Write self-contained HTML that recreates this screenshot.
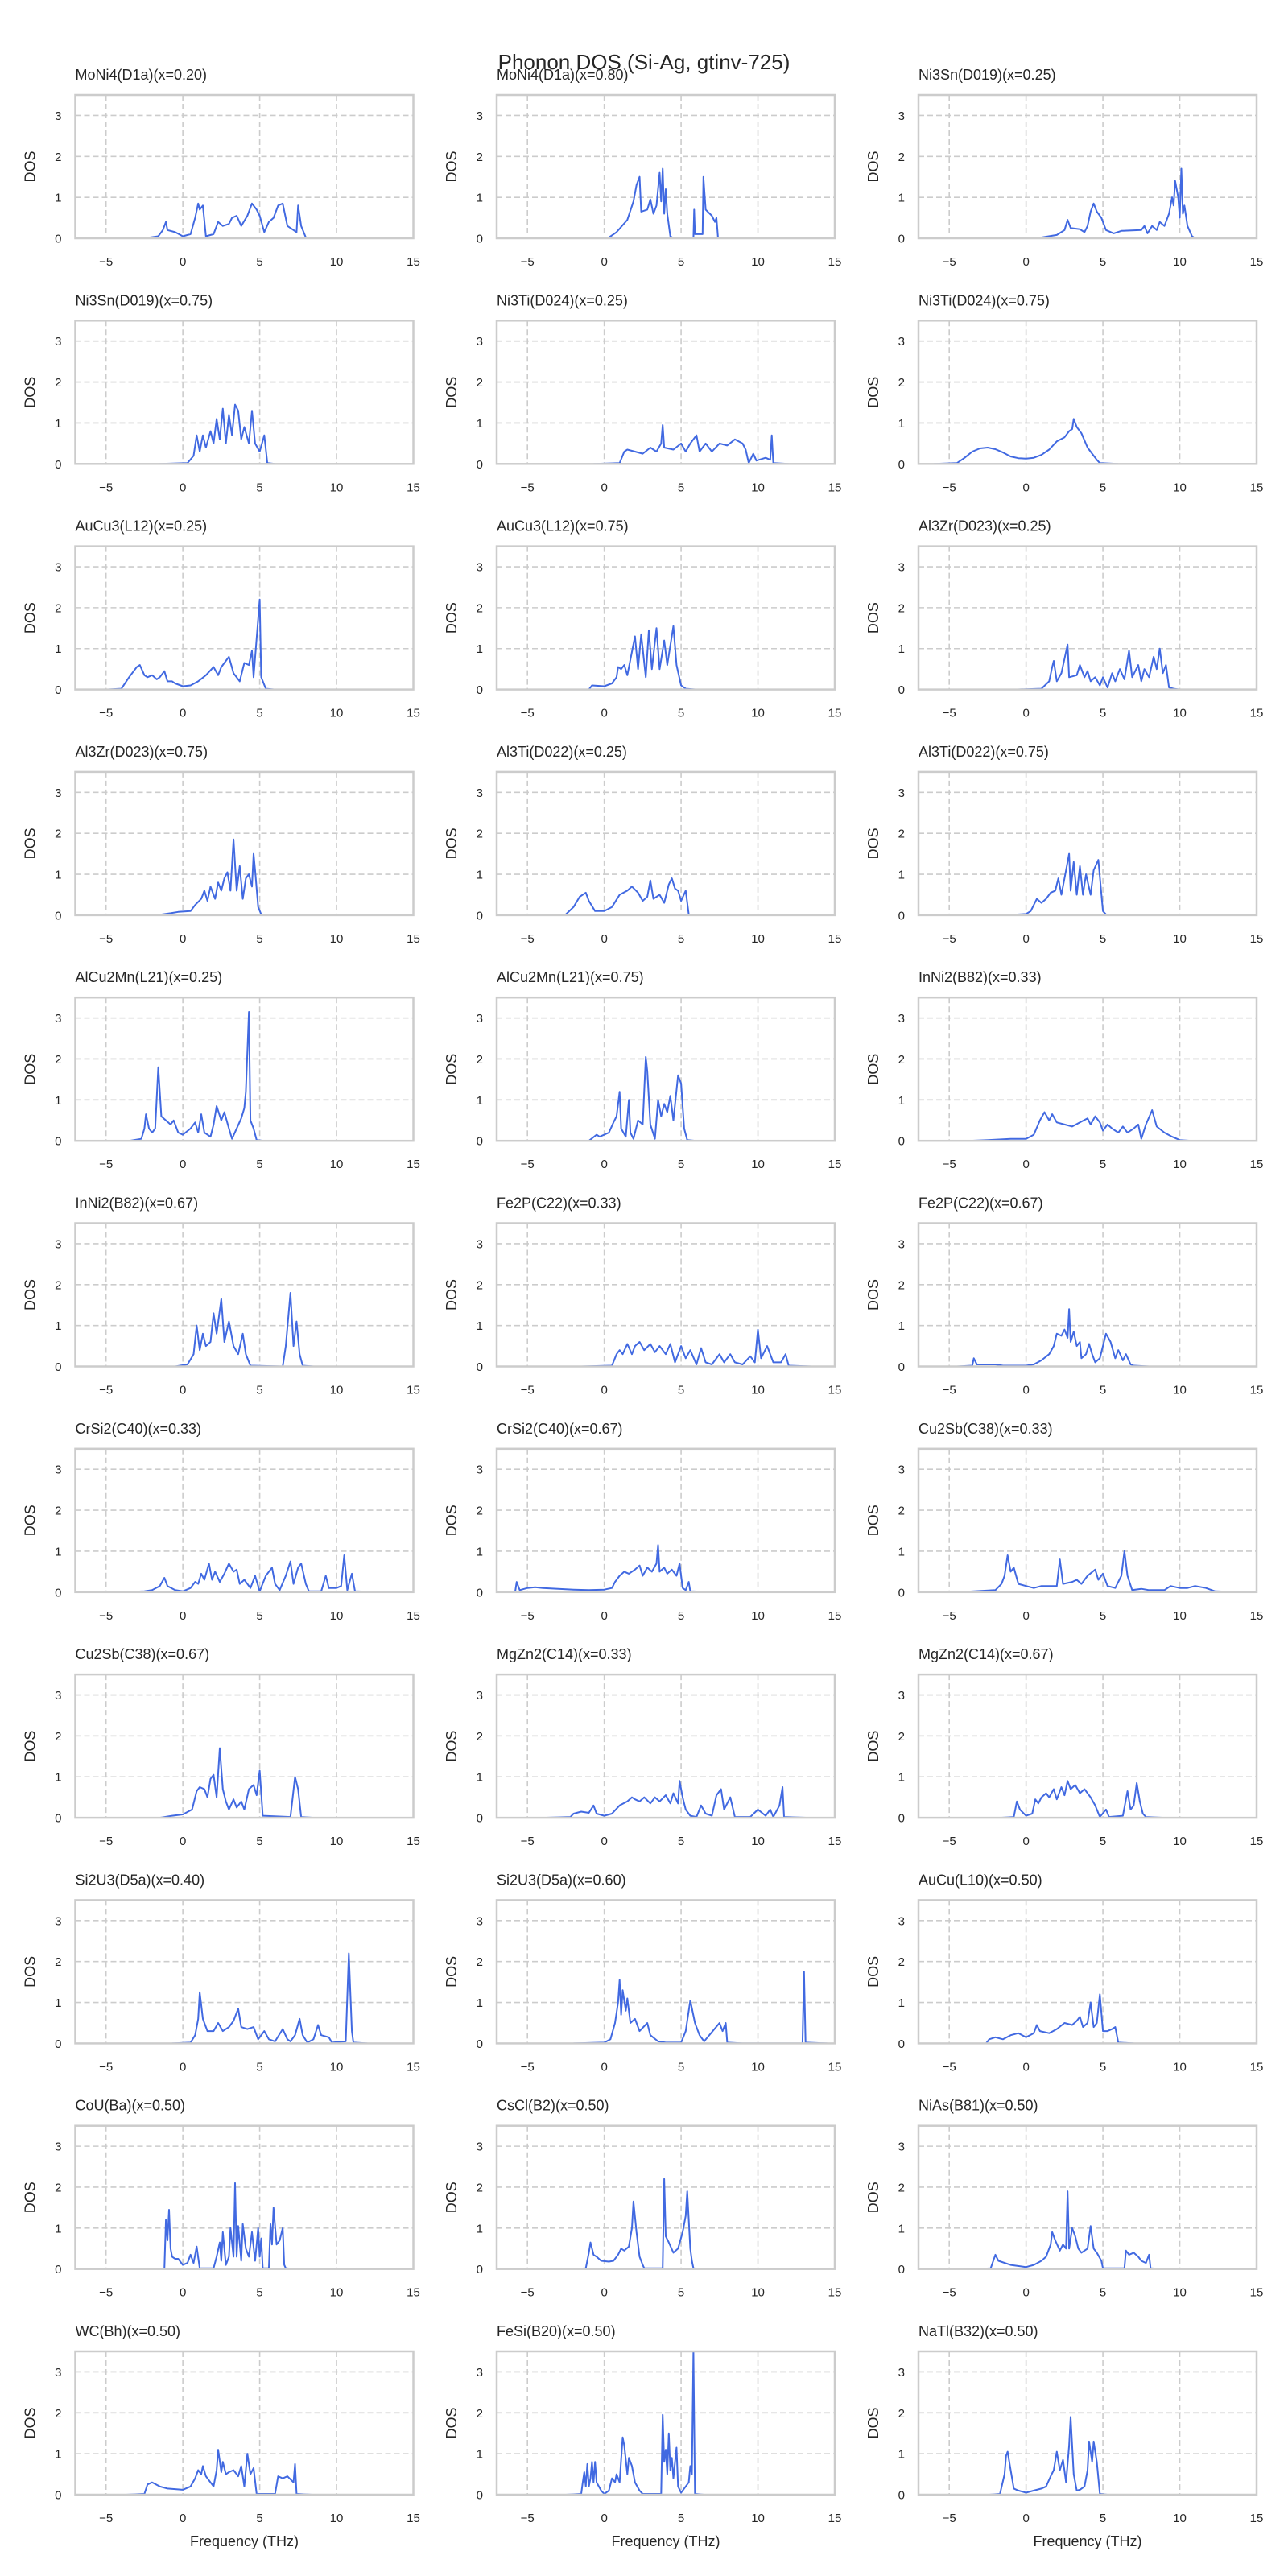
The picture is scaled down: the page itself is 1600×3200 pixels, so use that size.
<!DOCTYPE html>
<html><head><meta charset="utf-8"><title>Phonon DOS (Si-Ag, gtinv-725)</title>
<style>
html,body{margin:0;padding:0;background:#fff;}
svg{display:block;font-family:"Liberation Sans",sans-serif;}
</style></head>
<body>
<svg id="fig" width="1600" height="3200" viewBox="0 0 1600 3200" xmlns="http://www.w3.org/2000/svg">
<rect width="1600" height="3200" fill="#fff"/>
<text x="800" y="86" text-anchor="middle" font-size="26" fill="#262626">Phonon DOS (Si-Ag, gtinv-725)</text>
</svg>
<script>
const panelTitles = ["MoNi4(D1a)(x=0.20)","MoNi4(D1a)(x=0.80)","Ni3Sn(D019)(x=0.25)","Ni3Sn(D019)(x=0.75)","Ni3Ti(D024)(x=0.25)","Ni3Ti(D024)(x=0.75)","AuCu3(L12)(x=0.25)","AuCu3(L12)(x=0.75)","Al3Zr(D023)(x=0.25)","Al3Zr(D023)(x=0.75)","Al3Ti(D022)(x=0.25)","Al3Ti(D022)(x=0.75)","AlCu2Mn(L21)(x=0.25)","AlCu2Mn(L21)(x=0.75)","InNi2(B82)(x=0.33)","InNi2(B82)(x=0.67)","Fe2P(C22)(x=0.33)","Fe2P(C22)(x=0.67)","CrSi2(C40)(x=0.33)","CrSi2(C40)(x=0.67)","Cu2Sb(C38)(x=0.33)","Cu2Sb(C38)(x=0.67)","MgZn2(C14)(x=0.33)","MgZn2(C14)(x=0.67)","Si2U3(D5a)(x=0.40)","Si2U3(D5a)(x=0.60)","AuCu(L10)(x=0.50)","CoU(Ba)(x=0.50)","CsCl(B2)(x=0.50)","NiAs(B81)(x=0.50)","WC(Bh)(x=0.50)","FeSi(B20)(x=0.50)","NaTl(B32)(x=0.50)"];
const xTicks = [-5,0,5,10,15];
const yTicks = [0,1,2,3];
const xDomain = [-7,15];
const yDomain = [0,3.5];
// each series: flat list of [frequency, dos] pairs
const dosSeries = [
[-2.5,0,-1.6,0.05,-1.3,0.2,-1.1,0.4,-1,0.2,-0.5,0.15,0,0.05,0.5,0.1,0.8,0.5,1,0.85,1.1,0.7,1.3,0.8,1.5,0.05,2,0.1,2.3,0.4,2.6,0.3,3,0.35,3.2,0.5,3.5,0.55,3.8,0.3,4.2,0.55,4.5,0.85,4.8,0.7,5,0.55,5.3,0.15,5.6,0.4,5.9,0.5,6.2,0.8,6.5,0.85,6.8,0.3,7.2,0.2,7.4,0.15,7.5,0.8,7.7,0.3,8,0.02,9,0],
[-1,0,0.3,0.02,0.8,0.15,1.5,0.45,1.9,0.9,2.1,1.3,2.3,1.5,2.4,0.65,2.8,0.7,3,0.95,3.2,0.6,3.4,0.8,3.6,1.6,3.7,0.9,3.8,1.7,3.9,0.6,4,1.2,4.1,0.6,4.3,0.05,4.5,0,5.8,0,5.85,0.7,5.9,0.1,6.4,0.1,6.45,1.5,6.6,0.7,7,0.55,7.2,0.4,7.3,0.5,7.4,0.02,8,0],
[-0.7,0,1,0.02,2,0.08,2.5,0.2,2.7,0.45,2.9,0.25,3.5,0.22,3.8,0.15,4,0.3,4.2,0.65,4.4,0.85,4.6,0.65,4.9,0.5,5.2,0.2,5.7,0.12,6.2,0.18,7.5,0.2,7.7,0.3,7.9,0.12,8.2,0.3,8.5,0.2,8.7,0.4,9,0.3,9.3,0.6,9.5,1.0,9.6,0.8,9.7,1.4,9.9,1.0,10,0.5,10.1,1.7,10.2,0.6,10.3,0.8,10.5,0.3,10.8,0.05,11,0,12,0],
[-1.5,0,0.3,0.02,0.7,0.2,0.9,0.7,1.1,0.3,1.3,0.7,1.5,0.4,1.8,0.8,2,0.5,2.2,1.1,2.4,0.6,2.6,1.35,2.8,0.5,3,1.2,3.2,0.7,3.4,1.45,3.6,1.3,3.8,0.6,4,0.9,4.3,0.5,4.5,1.3,4.7,0.5,5,0.3,5.3,0.7,5.5,0.02,6,0],
[-0.7,0,1,0.02,1.3,0.3,1.5,0.35,2,0.3,2.5,0.25,3,0.4,3.4,0.3,3.7,0.5,3.8,0.95,3.9,0.4,4.5,0.35,5,0.5,5.3,0.3,5.6,0.5,6,0.7,6.2,0.3,6.6,0.5,7,0.3,7.5,0.5,8,0.45,8.5,0.6,9,0.5,9.2,0.35,9.4,0.02,9.7,0.25,9.9,0.08,10.5,0.15,10.8,0.1,10.9,0.7,11,0.02,12,0],
[-6,0,-4.5,0.02,-4,0.15,-3.5,0.3,-3,0.38,-2.5,0.4,-2,0.36,-1.5,0.28,-1,0.18,-0.5,0.14,0,0.13,0.5,0.15,1,0.22,1.5,0.35,2,0.55,2.5,0.65,2.8,0.8,3,0.85,3.1,1.1,3.3,0.9,3.6,0.75,4,0.4,4.3,0.25,4.6,0.1,4.8,0.02,6,0],
[-5,0,-4,0.02,-3.5,0.3,-3,0.55,-2.8,0.6,-2.5,0.35,-2.3,0.3,-2,0.35,-1.7,0.25,-1.5,0.3,-1.2,0.45,-1,0.2,-0.7,0.2,-0.5,0.15,0,0.08,0.5,0.1,1,0.2,1.5,0.35,2,0.55,2.3,0.35,2.5,0.55,3,0.8,3.3,0.4,3.7,0.2,4,0.65,4.3,0.6,4.5,0.95,4.6,0.3,5,2.2,5.1,0.3,5.4,0.02,6,0],
[-1,0,-0.8,0.1,0,0.08,0.5,0.15,0.8,0.3,0.9,0.55,1.1,0.5,1.3,0.6,1.5,0.35,2,1.3,2.2,0.5,2.4,1.35,2.7,0.3,2.9,1.45,3.1,0.5,3.4,1.5,3.6,0.5,3.9,1.2,4.1,0.6,4.5,1.55,4.7,0.6,5,0.1,5.3,0.02,6,0],
[-0.7,0,1,0.02,1.5,0.2,1.7,0.55,1.8,0.7,2,0.2,2.3,0.4,2.7,1.1,2.8,0.3,3.3,0.35,3.5,0.6,3.8,0.3,4,0.45,4.2,0.2,4.5,0.3,4.8,0.1,5,0.3,5.3,0.05,5.6,0.4,5.8,0.2,6.1,0.5,6.4,0.25,6.7,0.95,6.9,0.3,7.3,0.6,7.5,0.2,7.7,0.5,8,0.3,8.3,0.8,8.5,0.5,8.7,1.0,8.9,0.4,9.1,0.6,9.3,0.05,9.6,0.02,10,0],
[-1.7,0,-0.8,0.05,-0.3,0.08,0.5,0.1,0.8,0.25,1.2,0.4,1.4,0.6,1.6,0.35,1.8,0.7,2.1,0.4,2.3,0.8,2.5,0.6,2.7,0.9,2.9,1.05,3.1,0.6,3.3,1.85,3.5,0.6,3.7,1.2,3.9,0.4,4.1,0.9,4.3,1.0,4.5,0.7,4.6,1.5,4.7,1.1,4.9,0.2,5.1,0.02,5.5,0],
[-3.7,0,-2.5,0.02,-2,0.2,-1.6,0.45,-1.2,0.55,-1,0.35,-0.6,0.1,0,0.1,0.5,0.2,1,0.5,1.5,0.6,1.8,0.7,2.2,0.55,2.5,0.35,2.8,0.45,3,0.85,3.2,0.4,3.6,0.5,3.9,0.3,4.2,0.75,4.4,0.9,4.6,0.65,4.8,0.6,5,0.35,5.3,0.6,5.5,0.02,6.5,0],
[-1.5,0,0,0.03,0.3,0.1,0.7,0.4,1,0.3,1.3,0.4,1.6,0.55,1.9,0.6,2.1,0.9,2.3,0.5,2.6,1.1,2.8,1.5,2.9,0.6,3.1,1.3,3.3,0.5,3.5,1.2,3.7,0.5,3.9,1.0,4.2,0.5,4.4,1.1,4.7,1.35,5,0.1,5.2,0.02,6,0],
[-3.5,0,-2.7,0.05,-2.5,0.3,-2.4,0.65,-2.2,0.3,-2,0.2,-1.8,0.3,-1.6,1.8,-1.4,0.6,-1.1,0.5,-0.8,0.4,-0.6,0.5,-0.3,0.2,0,0.15,0.5,0.3,0.8,0.45,1,0.2,1.2,0.65,1.4,0.2,1.8,0.1,2,0.4,2.2,0.85,2.5,0.5,2.7,0.7,3,0.3,3.2,0.05,3.5,0.3,3.8,0.55,4,0.8,4.1,1.2,4.3,3.15,4.4,0.5,4.6,0.3,4.8,0.02,5.3,0],
[-1,0,-0.5,0.15,-0.3,0.1,0.3,0.2,0.6,0.45,0.8,0.6,1,1.2,1.1,0.3,1.4,0.1,1.6,1.0,1.7,0.2,1.9,0.05,2.2,0.5,2.5,0.4,2.7,2.05,2.8,1.7,3,0.4,3.3,0.05,3.5,1.0,3.7,0.6,3.9,0.9,4.1,0.7,4.3,1.1,4.5,0.5,4.8,1.6,5,1.4,5.2,0.3,5.4,0.02,6,0],
[-3.8,0,-2.5,0.02,-1,0.05,0,0.05,0.5,0.15,0.9,0.5,1.2,0.7,1.5,0.5,1.7,0.65,2,0.45,2.5,0.4,3,0.35,3.5,0.45,4,0.55,4.2,0.4,4.5,0.6,4.8,0.45,5,0.25,5.3,0.4,5.6,0.3,6,0.2,6.3,0.35,6.6,0.2,7,0.3,7.3,0.4,7.5,0.05,7.8,0.4,8.2,0.75,8.5,0.35,9,0.2,9.5,0.1,10,0.02,10.8,0],
[-0.5,0,0.3,0.05,0.7,0.3,0.9,1.0,1.1,0.4,1.3,0.8,1.5,0.5,1.8,0.6,2,1.3,2.2,0.8,2.5,1.65,2.7,0.6,3,1.1,3.3,0.5,3.6,0.3,3.9,0.8,4.1,0.3,4.4,0.02,6.5,0,6.7,0.5,7,1.8,7.2,0.5,7.4,1.1,7.6,0.3,7.8,0.02,8.5,0],
[-1.5,0,0.5,0.02,0.8,0.3,1,0.4,1.2,0.3,1.5,0.55,1.8,0.3,2,0.5,2.3,0.6,2.6,0.4,3,0.55,3.3,0.35,3.6,0.5,4,0.3,4.3,0.55,4.6,0.1,5,0.5,5.3,0.2,5.6,0.4,6,0.05,6.3,0.45,6.6,0.1,7,0.05,7.5,0.3,7.8,0.1,8.2,0.3,8.5,0.1,9,0.05,9.5,0.25,9.8,0.1,10,0.9,10.2,0.2,10.6,0.5,11,0.1,11.5,0.1,11.8,0.3,12,0.02,13.5,0],
[-4.5,0,-3.5,0.02,-3.4,0.2,-3.2,0.05,-2.5,0.05,-2,0.05,-1.5,0.02,0,0.02,0.5,0.05,1,0.15,1.5,0.3,1.8,0.5,2,0.8,2.3,0.75,2.5,0.9,2.7,0.7,2.8,1.4,2.9,0.6,3.1,0.85,3.3,0.5,3.5,0.6,3.6,0.2,3.9,0.3,4.1,0.55,4.3,0.3,4.5,0.1,4.8,0.2,5.2,0.8,5.5,0.6,5.8,0.2,6,0.4,6.3,0.15,6.5,0.3,6.8,0.05,7,0.02,8,0],
[-3.8,0,-2.5,0.02,-2,0.05,-1.5,0.15,-1.2,0.35,-1,0.15,-0.5,0.05,0,0.02,0.5,0.1,0.8,0.25,1,0.2,1.2,0.45,1.4,0.3,1.7,0.7,1.9,0.3,2.1,0.5,2.4,0.25,2.7,0.45,3,0.7,3.3,0.5,3.5,0.55,3.7,0.2,4,0.3,4.4,0.1,4.7,0.4,5,0.02,5.4,0.4,5.8,0.6,6,0.2,6.3,0.05,6.7,0.4,7,0.75,7.2,0.2,7.5,0.6,7.7,0.7,8,0.2,8.2,0.02,9,0.02,9.3,0.4,9.5,0.1,10,0.1,10.3,0.15,10.5,0.9,10.7,0.05,11,0.45,11.2,0.02,12.8,0],
[-7,0,-5.8,0,-5.7,0.25,-5.5,0.05,-5,0.1,-4.5,0.12,-4,0.1,-3,0.08,-2,0.06,-1,0.05,0,0.06,0.5,0.1,0.7,0.25,1,0.4,1.3,0.5,1.6,0.45,2,0.55,2.3,0.65,2.5,0.4,2.8,0.6,3.1,0.5,3.4,0.7,3.5,1.15,3.6,0.5,3.9,0.6,4.1,0.45,4.4,0.55,4.7,0.4,4.9,0.7,5.1,0.1,5.3,0.05,5.5,0.25,5.6,0.02,7.2,0],
[-4.3,0,-2,0.05,-1.6,0.2,-1.4,0.4,-1.2,0.9,-1,0.5,-0.8,0.6,-0.5,0.2,0,0.15,0.5,0.1,1,0.15,2,0.15,2.2,0.8,2.4,0.2,3,0.25,3.3,0.3,3.6,0.2,4,0.4,4.5,0.55,4.7,0.3,5,0.45,5.3,0.15,5.8,0.1,6.2,0.4,6.4,1.0,6.6,0.4,6.9,0.05,7.5,0.08,8,0.05,9,0.05,9.4,0.15,10,0.1,10.5,0.1,11,0.15,11.7,0.1,12.3,0.02,14,0],
[-1.5,0,-0.7,0.05,0,0.08,0.6,0.2,0.9,0.65,1.1,0.75,1.4,0.7,1.6,0.5,1.8,0.95,2,1.05,2.2,0.5,2.4,1.7,2.6,0.7,2.8,0.4,3,0.2,3.3,0.45,3.5,0.25,3.8,0.4,4,0.2,4.3,0.7,4.6,0.8,4.8,0.55,5,1.15,5.2,0.05,7,0.02,7.3,1.0,7.5,0.7,7.7,0.02,8.5,0],
[-4,0,-2.2,0.02,-2,0.1,-1.5,0.15,-1,0.12,-0.7,0.3,-0.5,0.1,0,0.05,0.5,0.1,1,0.3,1.5,0.4,1.8,0.5,2,0.45,2.3,0.4,2.6,0.5,3,0.35,3.3,0.5,3.6,0.4,4,0.55,4.3,0.35,4.5,0.6,4.8,0.35,4.9,0.9,5.1,0.5,5.3,0.2,5.6,0.05,6,0.02,6.3,0.3,6.6,0.1,7,0.05,7.3,0.55,7.6,0.7,7.8,0.2,8.2,0.5,8.5,0.02,9.5,0.02,10,0.2,10.5,0.05,10.8,0.2,11,0.02,11.4,0.3,11.6,0.75,11.7,0.02,13.3,0],
[-1.7,0,-0.8,0.02,-0.6,0.4,-0.4,0.2,0,0.05,0.4,0.1,0.6,0.45,0.8,0.35,1,0.5,1.3,0.6,1.5,0.5,1.8,0.7,2,0.45,2.3,0.75,2.5,0.55,2.7,0.9,2.9,0.7,3.2,0.8,3.5,0.6,3.8,0.7,4.2,0.5,4.5,0.3,4.8,0.02,5.2,0.2,5.4,0.02,6.3,0.05,6.6,0.65,6.8,0.2,7,0.3,7.2,0.85,7.4,0.4,7.6,0.1,7.8,0.02,9,0],
[-0.7,0,0.5,0.02,0.8,0.2,1,0.6,1.1,1.25,1.3,0.6,1.6,0.3,2,0.3,2.3,0.5,2.6,0.3,3,0.4,3.3,0.55,3.6,0.85,3.8,0.4,4.2,0.35,4.6,0.4,4.9,0.1,5.3,0.3,5.6,0.1,6,0.05,6.5,0.35,6.8,0.1,7,0.05,7.3,0.2,7.6,0.6,7.8,0.2,8.1,0.02,8.5,0.1,8.8,0.45,9,0.2,9.5,0.15,9.7,0.02,10.6,0.05,10.8,2.2,11,0.3,11.1,0.02,12,0],
[-2,0,0,0.02,0.4,0.1,0.7,0.5,0.9,1.0,1,1.55,1.1,0.7,1.2,1.3,1.4,0.8,1.5,1.1,1.7,0.5,2,0.6,2.3,0.3,2.8,0.5,3,0.2,3.5,0.05,4,0.02,5,0.02,5.3,0.3,5.6,1.05,5.9,0.5,6.2,0.2,6.5,0.05,7.5,0.5,7.7,0.3,7.9,0.5,8,0.02,9,0,12.9,0,13,1.75,13.1,0.02,14.5,0],
[-2.6,0,-2.4,0.1,-2,0.15,-1.5,0.1,-1,0.2,-0.5,0.25,0,0.15,0.5,0.25,0.7,0.45,0.9,0.3,1.5,0.25,2,0.35,2.5,0.5,3,0.45,3.3,0.55,3.5,0.65,3.7,0.4,4,0.5,4.2,1.0,4.4,0.4,4.6,0.5,4.8,1.2,5,0.3,5.3,0.3,5.6,0.35,5.8,0.4,6,0.02,7,0],
[-2,0,-1.2,0,-1.1,1.2,-1,0.7,-0.9,1.45,-0.8,0.5,-0.7,0.3,-0.5,0.25,-0.3,0.25,0,0.1,0.3,0.15,0.5,0.35,0.7,0.15,0.9,0.55,1.1,0.02,2,0.02,2.2,0.3,2.4,0.65,2.5,0.2,2.6,0.9,2.8,0.1,3,0.3,3.1,1.0,3.3,0.3,3.4,2.1,3.5,0.3,3.6,1.05,3.8,0.2,3.9,1.1,4.1,0.5,4.3,0.3,4.5,0.9,4.7,0.2,4.9,1.0,5,0.3,5.1,0.75,5.2,0.02,5.6,0.02,5.7,1.1,5.8,0.6,5.9,1.5,6.1,0.6,6.3,0.7,6.5,1.0,6.6,0.1,6.7,0.02,7.5,0],
[-2,0,-1.2,0.02,-1,0.4,-0.9,0.65,-0.7,0.35,-0.5,0.3,-0.2,0.2,0.3,0.18,0.6,0.2,0.9,0.35,1.1,0.5,1.3,0.45,1.6,0.55,1.8,1.0,1.9,1.65,2.1,0.9,2.3,0.3,2.5,0.1,2.6,0.02,3.8,0.02,3.9,2.2,4,0.8,4.2,0.65,4.5,0.4,4.8,0.5,5.1,0.9,5.3,1.3,5.4,1.9,5.6,0.5,5.7,0.2,5.8,0.02,6.3,0],
[-3.2,0,-2.3,0.02,-2,0.35,-1.8,0.2,-1,0.1,0,0.05,0.5,0.1,1,0.2,1.3,0.3,1.6,0.6,1.7,0.9,1.9,0.7,2.2,0.45,2.4,0.6,2.6,0.5,2.7,1.9,2.8,0.5,3,1.0,3.2,0.8,3.4,0.5,3.6,0.4,4,0.5,4.2,1.05,4.4,0.5,4.6,0.4,4.9,0.2,5,0.02,6.4,0.02,6.5,0.45,6.7,0.35,7,0.4,7.3,0.3,7.5,0.2,7.8,0.15,8,0.35,8.1,0.02,9,0],
[-3.7,0,-2.5,0.02,-2.3,0.25,-2,0.3,-1.5,0.2,-1,0.15,0,0.12,0.5,0.2,0.8,0.4,1,0.6,1.2,0.5,1.3,0.7,1.5,0.45,1.8,0.3,2,0.2,2.2,0.6,2.3,1.1,2.5,0.55,2.6,0.8,2.8,0.5,3,0.55,3.3,0.6,3.6,0.45,3.8,0.7,4,0.2,4.2,1.0,4.4,0.5,4.6,0.65,4.8,0.02,6,0.02,6.2,0.45,6.5,0.4,6.8,0.45,7.2,0.3,7.3,0.75,7.4,0.02,8.4,0],
[-2.5,0,-1.5,0.02,-1.4,0.3,-1.3,0.55,-1.2,0.2,-1.1,0.75,-1,0.2,-0.9,0.4,-0.8,0.8,-0.7,0.3,-0.6,0.8,-0.5,0.3,-0.2,0.1,0,0.02,0.3,0.1,0.5,0.4,0.7,0.3,0.8,0.5,1,0.3,1.2,1.4,1.3,1.2,1.5,0.5,1.6,0.9,1.8,0.7,2,0.3,2.3,0.1,2.5,0.02,3.7,0.02,3.8,1.95,3.9,0.8,4,1.1,4.1,0.5,4.2,1.5,4.3,0.6,4.4,0.9,4.5,0.4,4.7,1.15,4.8,0.2,5,0.05,5.3,0.2,5.5,0.3,5.6,0.7,5.7,0.5,5.8,3.5,5.9,0.02,6.5,0],
[-2.4,0,-1.7,0.02,-1.4,0.5,-1.3,0.95,-1.2,1.05,-1,0.6,-0.8,0.15,-0.5,0.1,0,0.05,0.5,0.1,1,0.15,1.3,0.2,1.6,0.45,1.8,0.6,2,1.05,2.2,0.6,2.4,0.85,2.6,0.3,2.8,1.2,2.9,1.9,3.1,0.5,3.3,0.1,3.5,0.12,3.8,0.2,4,0.6,4.1,1.3,4.3,0.8,4.4,1.3,4.6,0.8,4.8,0.02,5.3,0]
];

const NS = "http://www.w3.org/2000/svg";
const svg = document.getElementById('fig');
const colLeft = [93.5, 617, 1141];
const W = 420, H = 178, top0 = 118, rowPitch = 280.3;
function mk(tag, attrs, parent){const e=document.createElementNS(NS,tag);for(const k in attrs)e.setAttribute(k,attrs[k]);(parent||svg).appendChild(e);return e;}

panelTitles.forEach((title, i) => {
  const L = colLeft[i%3], T = top0 + Math.floor(i/3)*rowPitch;
  const sx = v => L + (v - xDomain[0]) / (xDomain[1]-xDomain[0]) * W;
  const sy = v => T + H - (v - yDomain[0]) / (yDomain[1]-yDomain[0]) * H;
  const g = mk('g', {});
  
  
  const cp = mk('clipPath', {id:'cp'+i}, g);
  mk('rect', {x:L, y:T, width:W, height:H}, cp);
  xTicks.forEach(t => {
    const gl = mk('line', {x1:sx(t), x2:sx(t), y1:T, y2:T+H, stroke:'#cccccc', 'stroke-width':1.6, 'stroke-dasharray':'7,4'}, g);
    
    
    const tl = mk('text', {x:sx(t), y:T+H+34, 'text-anchor':'middle', 'font-size':15, fill:'#262626'}, g);
    tl.textContent = t < 0 ? '\u2212' + Math.abs(t) : String(t);
    
    
  });
  yTicks.forEach(t => {
    const gl = mk('line', {x1:L, x2:L+W, y1:sy(t), y2:sy(t), stroke:'#cccccc', 'stroke-width':1.6, 'stroke-dasharray':'7,4'}, g);
    
    
    const tl = mk('text', {x:L-17, y:sy(t)+5.5, 'text-anchor':'end', 'font-size':15, fill:'#262626'}, g);
    tl.textContent = String(t);
    
    
  });
  const s = dosSeries[i];
  let d = '';
  for (let k = 0; k < s.length; k += 2) d += (k ? 'L' : 'M') + sx(s[k]).toFixed(1) + ',' + sy(s[k+1]).toFixed(1);
  const p = mk('path', {d:d, fill:'none', stroke:'#4169e1', 'stroke-width':2, 'stroke-linejoin':'round', 'clip-path':'url(#cp'+i+')'}, g);
  
  
  const fr = mk('rect', {x:L, y:T, width:W, height:H, fill:'none', stroke:'#cccccc', 'stroke-width':2.5}, g);
  
  
  const tt = mk('text', {x:L, y:T-19, 'font-size':18, fill:'#262626'}, g);
  tt.textContent = title;
  
  
  const yl = mk('text', {x:0, y:0, 'text-anchor':'middle', 'font-size':18, fill:'#262626', transform:'translate('+(L-50)+','+(T+H/2)+') rotate(-90)'}, g);
  yl.textContent = 'DOS';
  
  
  if (i >= 30) {
    const xl = mk('text', {x:L+W/2, y:T+H+64, 'text-anchor':'middle', 'font-size':18, fill:'#262626'}, g);
    xl.textContent = 'Frequency (THz)';
    
    
  }
});
</script>
</body></html>
